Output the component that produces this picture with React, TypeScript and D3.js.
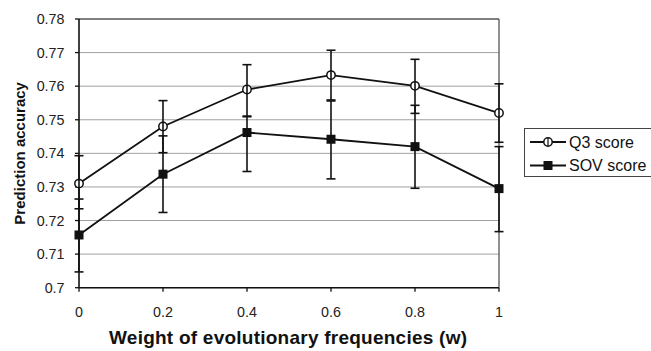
import React from "react";
import * as d3 from "d3";

const weights = [0, 0.2, 0.4, 0.6, 0.8, 1];
const q3Values = [0.731, 0.748, 0.759, 0.7633, 0.7601, 0.752];
const q3Upper = [0.7393, 0.7557, 0.7664, 0.7707, 0.768, 0.7607];
const q3Lower = [0.7235, 0.7402, 0.7509, 0.7559, 0.7519, 0.7433];
const sovValues = [0.7157, 0.7338, 0.7462, 0.7442, 0.742, 0.7295];
const sovUpper = [0.7264, 0.7452, 0.7511, 0.7556, 0.7543, 0.742];
const sovLower = [0.7047, 0.7224, 0.7346, 0.7324, 0.7296, 0.7167];
const yTicks = [0.7, 0.71, 0.72, 0.73, 0.74, 0.75, 0.76, 0.77, 0.78];
const xTicks = [0, 0.2, 0.4, 0.6, 0.8, 1];
const seriesNames = ["Q3 score", "SOV score"];

const FONT = "'Liberation Sans', Arial, Helvetica, sans-serif";

export default function App() {
  const x = d3.scaleLinear().domain([0, 1]).range([79, 499]);
  const y = d3.scaleLinear().domain([0.7, 0.78]).range([287.7, 19]);
  const line = d3
    .line<[number, number]>()
    .x((d) => x(d[0]))
    .y((d) => y(d[1]));
  const q3Pts = weights.map((w, i) => [w, q3Values[i]] as [number, number]);
  const sovPts = weights.map((w, i) => [w, sovValues[i]] as [number, number]);

  const errBars = (upper: number[], lower: number[], key: string) =>
    weights.map((w, i) => (
      <g key={key + i} stroke="#111" strokeWidth={1.6}>
        <line x1={x(w)} x2={x(w)} y1={y(upper[i])} y2={y(lower[i])} />
        <line x1={x(w) - 4.5} x2={x(w) + 4.5} y1={y(upper[i])} y2={y(upper[i])} />
        <line x1={x(w) - 4.5} x2={x(w) + 4.5} y1={y(lower[i])} y2={y(lower[i])} />
      </g>
    ));

  const diamond = (cx: number, cy: number, k: string) => (
    <g key={k}>
      <circle cx={cx} cy={cy} r={4.2} fill="#fff" stroke="#111" strokeWidth={1.5} />
    </g>
  );
  const square = (cx: number, cy: number, k: string) => (
    <rect key={k} x={cx - 4.5} y={cy - 4.5} width={9} height={9} fill="#111" />
  );

  return (
    <svg
      width={651}
      height={351}
      style={{ position: "absolute", left: 0, top: 0, background: "#fff" }}
      fontFamily={FONT}
    >
      <rect x={0} y={0} width={651} height={351} fill="#fff" />
      {/* gridlines */}
      {yTicks.map((t) => (
        <line
          key={"g" + t}
          x1={x(0)}
          x2={x(1)}
          y1={y(t)}
          y2={y(t)}
          stroke={t === 0.78 ? "#555" : "#a0a0a0"}
          strokeWidth={t === 0.78 ? 1.6 : 1}
        />
      ))}
      {/* right border */}
      <line x1={x(1)} x2={x(1)} y1={y(0.78)} y2={y(0.7)} stroke="#555" strokeWidth={1.3} />
      {/* axes */}
      <line x1={x(0)} x2={x(0)} y1={y(0.78)} y2={y(0.7)} stroke="#111" strokeWidth={1.6} />
      <line x1={x(0)} x2={x(1)} y1={y(0.7)} y2={y(0.7)} stroke="#111" strokeWidth={1.6} />
      {yTicks.map((t) => (
        <g key={"yt" + t}>
          <line x1={x(0) - 4} x2={x(0)} y1={y(t)} y2={y(t)} stroke="#111" strokeWidth={1.3} />
          <text
            x={64.5}
            y={y(t)}
            dy="0.36em"
            textAnchor="end"
            fontSize={14.3}
            fill="#222"
          >
            {d3.format("")(t)}
          </text>
        </g>
      ))}
      {xTicks.map((t) => (
        <g key={"xt" + t}>
          <line x1={x(t)} x2={x(t)} y1={y(0.7)} y2={y(0.7) + 4} stroke="#111" strokeWidth={1.3} />
          <text x={x(t)} y={317} textAnchor="middle" fontSize={14.3} fill="#222">
            {d3.format("")(t)}
          </text>
        </g>
      ))}
      {/* axis titles */}
      <text
        transform={`translate(25,${(y(0.78) + y(0.7)) / 2}) rotate(-90)`}
        textAnchor="middle"
        fontSize={15}
        fontWeight="bold"
        fill="#111"
      >
        Prediction accuracy
      </text>
      <text
        x={288}
        y={344}
        textAnchor="middle"
        fontSize={19}
        fontWeight="bold"
        fill="#111"
        textLength={358}
        lengthAdjust="spacing"
      >
        Weight of evolutionary frequencies (w)
      </text>
      {/* series lines */}
      <path d={line(q3Pts) || ""} fill="none" stroke="#111" strokeWidth={1.8} />
      <path d={line(sovPts) || ""} fill="none" stroke="#111" strokeWidth={1.8} />
      {q3Pts.map((p, i) => diamond(x(p[0]), y(p[1]), "q" + i))}
      {sovPts.map((p, i) => square(x(p[0]), y(p[1]), "s" + i))}
      {errBars(q3Upper, q3Lower, "eq")}
      {errBars(sovUpper, sovLower, "es")}
      {/* legend */}
      <rect x={524.5} y={128.5} width={130} height={48} fill="#fff" stroke="#444" strokeWidth={1} />
      <line x1={530} x2={566} y1={142} y2={142} stroke="#111" strokeWidth={1.8} />
      {diamond(548, 142, "lq")}
      <line x1={548} x2={548} y1={138} y2={146} stroke="#111" strokeWidth={1.2} />
      <text x={569} y={142} dy="0.36em" fontSize={16} fill="#111">
        {seriesNames[0]}
      </text>
      <line x1={530} x2={566} y1={165.5} y2={165.5} stroke="#111" strokeWidth={1.8} />
      {square(548, 165.5, "ls")}
      <text x={569} y={165.5} dy="0.36em" fontSize={16} fill="#111">
        {seriesNames[1]}
      </text>
    </svg>
  );
}
